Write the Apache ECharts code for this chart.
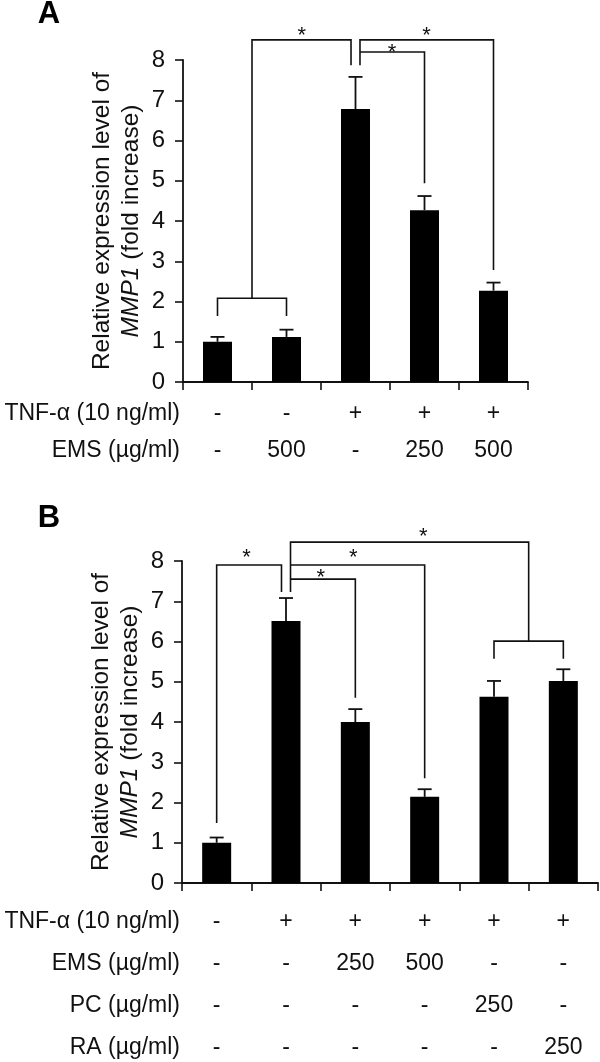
<!DOCTYPE html>
<html>
<head>
<meta charset="utf-8">
<script src="https://cdn.jsdelivr.net/npm/echarts@6/dist/echarts.min.js"></script>
<style>
html,body{margin:0;padding:0;background:#fff;}
#chart{width:600px;height:1062px;}
</style>
</head>
<body>
<div id="chart"></div>
<script>
// ---------- data ----------
const yTicks = [0, 1, 2, 3, 4, 5, 6, 7, 8];

// Panel A
const rowNamesA = ['TNF-α (10 ng/ml)', 'EMS (µg/ml)'];
const tnfA = ['-', '-', '+', '+', '+'];
const emsA = ['-', '500', '-', '250', '500'];
const meanA = [1.0, 1.12, 6.78, 4.27, 2.27];
const errA  = [0.12, 0.18, 0.80, 0.35, 0.20];
// brackets: polylines in [category position, value]
const bracketsA = [
  [[0, 1.64], [0, 2.08], [1, 2.08], [1, 1.64]],
  [[0.5, 2.08], [0.5, 8.5], [1.935, 8.5], [1.935, 7.87]],
  [[2.065, 7.87], [2.065, 8.5], [4, 8.5], [4, 2.78]],
  [[2.065, 8.2], [3, 8.2], [3, 4.94]]
];
const starsA = [[1.22, 8.72], [3.03, 8.72], [2.53, 8.3]];

// Panel B
const rowNamesB = ['TNF-α (10 ng/ml)', 'EMS (µg/ml)', 'PC (µg/ml)', 'RA (µg/ml)'];
const tnfB = ['-', '+', '+', '+', '+', '+'];
const emsB = ['-', '-', '250', '500', '-', '-'];
const pcB  = ['-', '-', '-', '-', '250', '-'];
const raB  = ['-', '-', '-', '-', '-', '250'];
const meanB = [1.0, 6.51, 4.0, 2.14, 4.63, 5.02];
const errB  = [0.13, 0.57, 0.32, 0.19, 0.39, 0.29];
const bracketsB = [
  [[0, 1.49], [0, 7.9], [0.935, 7.9], [0.935, 7.23]],
  [[1.065, 7.23], [1.065, 8.47], [4.5, 8.47], [4.5, 6.01]],
  [[4, 5.57], [4, 6.01], [5, 6.01], [5, 5.57]],
  [[1.065, 7.9], [3, 7.9], [3, 2.6]],
  [[1.065, 7.55], [2, 7.55], [2, 4.6]]
];
const starsB = [[0.43, 8.2], [2.98, 8.72], [1.97, 8.2], [1.5, 7.7]];

// ---------- layout ----------
const FONT = '"Liberation Sans", Arial, Helvetica, sans-serif';
const gridA = {left: 183, top: 60, width: 345, height: 322, outerBoundsMode: 'none', containLabel: false};
const gridB = {left: 182, top: 561, width: 416, height: 322, outerBoundsMode: 'none', containLabel: false};
const lhA = 37, marginA = 13;
const lhB = 42, marginB = 18;

function toPx(api, x, y) {
  const i = Math.floor(x);
  const f = x - i;
  const p = api.coord([i, y]);
  const band = api.size([1, 0])[0];
  return [p[0] + f * band, p[1]];
}

function bracketSeries(idx, brackets, stars) {
  const items = brackets.map((b, k) => ({value: [k, 0], kind: 'b', k: k}))
    .concat(stars.map((s, k) => ({value: [k, 0], kind: 's', k: k})));
  return {
    type: 'custom',
    xAxisIndex: idx, yAxisIndex: idx,
    clip: false,
    silent: true,
    z: 5,
    data: items.map(d => d.value),
    renderItem: function (params, api) {
      const d = items[params.dataIndex];
      if (d.kind === 'b') {
        const pts = brackets[d.k].map(p => toPx(api, p[0], p[1]));
        return {
          type: 'polyline',
          shape: {points: pts},
          style: {stroke: '#111', lineWidth: 1.6, fill: null}
        };
      } else {
        const s = stars[d.k];
        const p = toPx(api, s[0], s[1]);
        return {
          type: 'text',
          style: {
            text: '*', x: p[0], y: p[1] + 5,
            align: 'center', verticalAlign: 'middle',
            fontSize: 22, fontFamily: FONT, fill: '#111'
          }
        };
      }
    }
  };
}

function errorSeries(idx, mean, err) {
  return {
    type: 'custom',
    xAxisIndex: idx, yAxisIndex: idx,
    clip: false, silent: true, z: 4,
    data: mean.map((m, i) => [i, m, err[i]]),
    renderItem: function (params, api) {
      const i = api.value(0), m = api.value(1), e = api.value(2);
      const p0 = api.coord([i, m]);
      const p1 = api.coord([i, m + e]);
      const cap = 7;
      return {
        type: 'group',
        children: [
          {type: 'line', shape: {x1: p0[0], y1: p0[1], x2: p1[0], y2: p1[1]},
           style: {stroke: '#111', lineWidth: 1.8}},
          {type: 'line', shape: {x1: p1[0] - cap, y1: p1[1], x2: p1[0] + cap, y2: p1[1]},
           style: {stroke: '#111', lineWidth: 1.8}}
        ]
      };
    }
  };
}

function xAxisFor(idx, rows, lh, margin) {
  return {
    type: 'category', gridIndex: idx,
    data: rows[0].map((_, i) => String(i)),
    boundaryGap: true,
    axisLine: {show: true, lineStyle: {color: '#111', width: 1.8}},
    axisTick: {show: true, length: 8, interval: 0, lineStyle: {color: '#111', width: 1.6}},
    axisLabel: {
      interval: 0, margin: margin, color: '#111', fontSize: 23, fontFamily: FONT,
      lineHeight: lh, hideOverlap: false,
      formatter: function (v, i) { return rows.map(r => r[i]).join('\n'); }
    },
    splitLine: {show: false}
  };
}

function yAxisFor(idx) {
  return {
    type: 'value', gridIndex: idx,
    min: yTicks[0], max: yTicks[yTicks.length - 1], interval: 1,
    axisLine: {show: true, lineStyle: {color: '#111', width: 1.8}},
    axisTick: {show: true, length: 8, lineStyle: {color: '#111', width: 1.6}},
    axisLabel: {margin: 18, color: '#111', fontSize: 24, fontFamily: FONT},
    splitLine: {show: false},
    name: 'Relative expression level of\n{i|MMP1} (fold increase)',
    nameLocation: 'middle', nameRotate: 90, nameGap: 37, nameMoveOverlap: false,
    nameTextStyle: {
      color: '#111', fontSize: 24.5, fontFamily: FONT, lineHeight: 29, align: 'center',
      rich: {i: {fontStyle: 'italic', fontSize: 24.5, fontFamily: FONT, color: '#111', lineHeight: 29}}
    }
  };
}

function rowHeaders(grid, names, lh, margin) {
  const axisY = grid.top + grid.height;
  return names.map((t, k) => ({
    type: 'text',
    style: {
      text: t, x: 180, y: axisY + margin + lh * (k + 0.5),
      textAlign: 'right', textVerticalAlign: 'middle',
      fontSize: 23, fontFamily: FONT, fill: '#111'
    }
  }));
}

const chart = echarts.init(document.getElementById('chart'), null, {renderer: 'canvas'});
const option = {
  animation: false,
  backgroundColor: '#fff',
  grid: [gridA, gridB],
  xAxis: [xAxisFor(0, [tnfA, emsA], lhA, marginA), xAxisFor(1, [tnfB, emsB, pcB, raB], lhB, marginB)],
  yAxis: [yAxisFor(0), yAxisFor(1)],
  series: [
    {type: 'bar', xAxisIndex: 0, yAxisIndex: 0, data: meanA, barWidth: 29,
     itemStyle: {color: '#000'}, silent: true, z: 3},
    errorSeries(0, meanA, errA),
    bracketSeries(0, bracketsA, starsA),
    {type: 'bar', xAxisIndex: 1, yAxisIndex: 1, data: meanB, barWidth: 29,
     itemStyle: {color: '#000'}, silent: true, z: 3},
    errorSeries(1, meanB, errB),
    bracketSeries(1, bracketsB, starsB)
  ],
  graphic: [
    {type: 'text', style: {text: 'A', x: 49, y: 14, textAlign: 'center', textVerticalAlign: 'middle',
      fontSize: 31, fontWeight: 'bold', fontFamily: FONT, fill: '#000'}},
    {type: 'text', style: {text: 'B', x: 49, y: 518, textAlign: 'center', textVerticalAlign: 'middle',
      fontSize: 31, fontWeight: 'bold', fontFamily: FONT, fill: '#000'}}
  ].concat(rowHeaders(gridA, rowNamesA, lhA, marginA), rowHeaders(gridB, rowNamesB, lhB, marginB))
};
chart.setOption(option);
</script>
</body>
</html>
